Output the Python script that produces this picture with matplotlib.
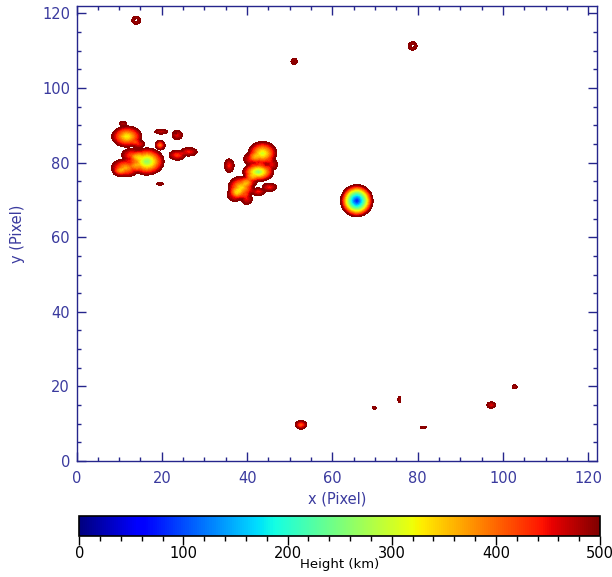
import numpy as np
import matplotlib
matplotlib.use("Agg")
import matplotlib.pyplot as plt
from matplotlib.ticker import MultipleLocator
from matplotlib.cm import ScalarMappable
from matplotlib.colors import Normalize

# ---- data: feature blobs (centre x, centre y, radius x, radius y, depth below background) ----
# negative depth = hole (value above background)
blob_x = [65.7,
          16.5, 11.5, 13.0, 10.0, 19.6, 11.8, 14.5, 10.9, 19.9, 23.6, 23.3, 23.6, 26.3, 19.6,
          35.8, 43.6, 41.0, 42.6, 38.6, 37.2, 39.9, 40.5, 42.6, 45.2, 45.8,
          14.0, 14.0, 51.0, 51.0, 78.8, 78.8,
          52.6, 69.8, 75.7, 81.3, 97.2, 102.7]
blob_y = [69.8,
          80.3, 78.6, 82.0, 77.6, 84.7, 87.0, 85.0, 90.4, 88.3, 87.4, 87.9, 82.0, 82.9, 74.3,
          79.2, 82.5, 81.0, 77.5, 73.3, 71.5, 70.3, 75.2, 72.2, 73.4, 79.5,
          118.2, 118.2, 107.2, 107.2, 111.3, 111.3,
          9.7, 14.3, 16.5, 9.0, 15.0, 19.9]
blob_rx = [3.85,
           4.1, 3.4, 2.5, 1.6, 1.2, 3.6, 1.6, 0.9, 1.7, 1.3, 0.35, 2.0, 2.1, 0.9,
           1.2, 3.4, 1.9, 3.7, 3.1, 2.0, 1.4, 2.0, 1.7, 1.8, 1.4,
           1.1, 0.55, 0.8, 0.3, 1.1, 0.55,
           1.4, 0.5, 0.4, 0.9, 1.1, 0.65]
blob_ry = [4.35,
           3.7, 2.5, 1.9, 1.3, 1.35, 2.9, 1.2, 0.7, 0.7, 1.3, 0.35, 1.4, 1.2, 0.4,
           1.9, 3.2, 1.9, 2.6, 3.1, 2.0, 1.6, 1.8, 1.1, 1.2, 1.6,
           1.2, 0.6, 0.9, 0.35, 1.2, 0.6,
           1.2, 0.5, 1.0, 0.35, 0.9, 0.65]
blob_depth = [435,
              250, 150, 100, 60, 130, 190, 70, 40, 45, 60, -40, 90, 70, 30,
              70, 210, 80, 250, 180, 90, 60, 90, 70, 70, 60,
              60, -100, 45, -60, 60, -100,
              110, 30, 40, 25, 60, 40]

background = 505.0
levels = np.linspace(0, 500, 51)
cbar_ticks = [0, 100, 200, 300, 400, 500]

# ---- field ----
xg = np.linspace(0, 122, 1221)
yg = np.linspace(0, 122, 1221)
X, Y = np.meshgrid(xg, yg)
Z = np.full_like(X, background)
for cx, cy, rx, ry, d in zip(blob_x, blob_y, blob_rx, blob_ry, blob_depth):
    u = np.sqrt(((X - cx) / rx) ** 2 + ((Y - cy) / ry) ** 2)
    Z -= d * np.clip(1 - u ** 1.3, 0, None)

# ---- figure ----
W, H = 612, 577
fig = plt.figure(figsize=(W / 100, H / 100), dpi=100)
plt.rcParams['font.family'] = ['DejaVu Sans']
txt = '#3a3a9e'
spine = '#25258c'

ax = fig.add_axes([76.5 / W, (H - 461) / H, (597 - 76.5) / W, (461 - 6) / H])
ax.contourf(X, Y, Z, levels=levels, cmap='jet')
ax.set_xlim(0, 122)
ax.set_ylim(0, 122)
ax.xaxis.set_major_locator(MultipleLocator(20))
ax.yaxis.set_major_locator(MultipleLocator(20))
ax.xaxis.set_minor_locator(MultipleLocator(5))
ax.yaxis.set_minor_locator(MultipleLocator(5))
ax.tick_params(which='both', direction='in', top=True, right=True, color=spine,
               labelcolor=txt, labelsize=10.5, width=1)
ax.tick_params(which='major', length=6.5)
ax.tick_params(axis='y', which='major', pad=4.7)
ax.tick_params(axis='x', which='major', pad=7)
ax.tick_params(which='minor', length=3)
for s in ax.spines.values():
    s.set_color(spine)
    s.set_linewidth(1)
ax.set_xlabel('x (Pixel)', color=txt, fontsize=10.5, labelpad=4)
ax.set_ylabel('y (Pixel)', color=txt, fontsize=10.5, labelpad=12)

cax = fig.add_axes([79.3 / W, (H - 535.7) / H, (600 - 79.3) / W, 20 / H])
sm = ScalarMappable(norm=Normalize(0, 500), cmap='jet')
cb = fig.colorbar(sm, cax=cax, orientation='horizontal')
cb.set_ticks(cbar_ticks)
cb.ax.xaxis.set_minor_locator(MultipleLocator(20))
cb.ax.tick_params(which='both', direction='out', color='black', labelsize=10.5, width=1)
cb.ax.tick_params(which='major', length=6.5, pad=1)
cb.ax.tick_params(which='minor', length=3.5)
cb.outline.set_linewidth(1.2)
cb.set_label('Height (km)', fontsize=9.5, labelpad=-2)

fig.savefig('out.png', dpi=100)
